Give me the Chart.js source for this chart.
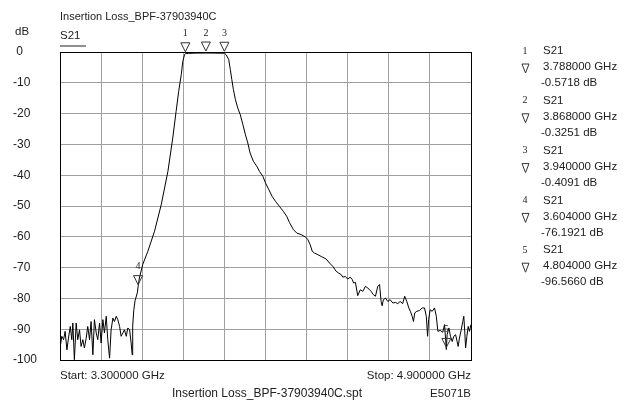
<!DOCTYPE html>
<html>
<head>
<meta charset="utf-8">
<script src="https://cdn.jsdelivr.net/npm/chart.js@4.4.0/dist/chart.umd.min.js"></script>
<style>
html, body { margin: 0; padding: 0; background: #fff; }
#wrap { position: relative; width: 639px; height: 402px; }
</style>
</head>
<body>
<div id="wrap"><canvas id="myChart"></canvas></div>
<script>
// trace (GHz / dB)
var freqGHz = [
    3.301,3.307,3.314,3.320,3.327,3.333,3.340,3.346,3.350,3.356,
    3.363,3.369,3.376,3.382,3.389,3.395,3.402,3.408,3.415,3.421,
    3.428,3.434,3.441,3.447,3.454,3.460,3.467,3.473,3.480,3.486,
    3.493,3.499,3.506,3.512,3.519,3.525,3.532,3.538,3.545,3.551,
    3.558,3.564,3.571,3.577,
    3.581,3.583,3.587,3.592,3.601,3.604,3.609,3.622,3.642,3.668,3.694,3.720,3.739,3.752,3.762,3.772,3.778,3.785,
    3.788,3.800,3.830,3.868,3.900,3.940,
    3.947,3.957,3.963,3.969,3.975,3.983,3.992,4.002,4.012,4.022,
    4.031,4.040,4.053,4.066,4.077,4.090,4.100,4.113,4.126,4.139,
    4.154,4.170,4.183,4.193,4.209,4.222,4.239,4.256,4.265,4.274,
    4.282,4.291,4.304,4.317,4.336,
    4.349,4.362,4.375,4.385,4.395,4.401,4.411,4.420,4.430,4.438,
    4.443,4.450,4.459,4.469,4.479,4.489,4.498,4.511,4.520,4.528,
    4.537,4.544,4.550,4.554,4.559,4.567,4.576,4.585,4.596,4.606,
    4.615,4.624,4.634,4.642,4.650,4.658,4.664,4.671,4.676,4.681,
    4.689,4.700,4.710,4.719,4.726,4.731,4.735,4.741,4.749,4.758,
    4.765,4.771,4.780,4.790,4.797,4.804,4.807,4.814,4.820,4.827,
    4.833,4.840,4.846,4.850,4.855,4.862,4.868,4.872,4.876,4.879,
    4.884,4.889,4.894,4.900
];
var s21dB = [
    -95.6,-92.3,-93.4,-90.7,-96.7,-92.9,-89.1,-93.4,-88.0,-99.9,
    -88.0,-93.4,-90.2,-95.6,-93.4,-96.1,-92.9,-89.1,-93.4,-87.5,
    -98.3,-86.9,-91.2,-93.4,-88.0,-94.5,-86.9,-91.2,-85.8,-93.4,
    -99.4,-90.2,-86.4,-87.5,-85.8,-86.9,-89.1,-92.3,-91.2,-90.2,
    -92.3,-89.6,-90.2,-94.5,
    -98.3,-89.0,-84.0,-80.8,-78.2,-76.2,-73.4,-69.0,-64.7,-58.2,-49.6,-38.8,-27.9,-19.3,-12.8,-7.4,-3.1,-0.8,
    -0.57,-0.45,-0.36,-0.33,-0.36,-0.41,
    -0.9,-2.5,-5.7,-9.0,-12.2,-15.5,-18.2,-20.4,-23.6,-26.9,
    -29.5,-32.8,-35.5,-37.1,-38.8,-40.4,-42.5,-44.7,-46.9,-48.5,
    -50.1,-51.8,-53.4,-55.3,-57.7,-58.8,-59.3,-60.1,-60.9,-62.6,
    -64.7,-65.3,-65.8,-66.4,-67.2,
    -68.5,-69.6,-71.2,-71.8,-72.3,-73.1,-72.9,-73.7,-73.1,-73.9,
    -75.0,-74.8,-79.1,-77.2,-77.7,-76.1,-76.6,-77.7,-78.8,-79.3,
    -76.1,-75.5,-81.0,-82.4,-80.4,-79.9,-81.0,-80.4,-81.5,-81.3,
    -81.7,-81.0,-81.7,-79.3,-81.0,-83.1,-84.2,-85.8,-87.5,-84.7,
    -84.2,-83.9,-83.1,-83.1,-85.8,-92.3,-86.9,-83.7,-84.2,-83.1,
    -85.8,-90.7,-90.4,-91.0,-88.5,-96.6,-91.8,-89.6,-92.3,-94.0,
    -92.3,-91.8,-94.0,-95.6,-92.9,-90.2,-87.5,-85.8,-91.2,-96.1,
    -92.3,-89.1,-90.7,-88.5
];

var markerNo = ["1", "2", "3", "4", "5"];
var markerFreq = [3.788, 3.868, 3.940, 3.604, 4.804];
var markerDb = [-0.5718, -0.3251, -0.4091, -76.1921, -96.5660];

var xGrid = [3.30, 3.46, 3.62, 3.78, 3.94, 4.10, 4.26, 4.42, 4.58, 4.74, 4.90];
var yTicks = [0, -10, -20, -30, -40, -50, -60, -70, -80, -90, -100];

var titleText = "Insertion Loss_BPF-37903940C";
var traceName = "S21";
var startText = "Start: 3.300000 GHz";
var stopText = "Stop: 4.900000 GHz";
var fileText = "Insertion Loss_BPF-37903940C.spt";
var modelText = "E5071B";

var points = [];
for (let i = 0; i < freqGHz.length; i++) {
    points.push({x: freqGHz[i], y: s21dB[i]});
}

const SANS = "'Liberation Sans', Arial, sans-serif";
const SERIF = "'Liberation Serif', 'Times New Roman', serif";

function drawTri(ctx, cx, apexY, w, h){
    ctx.beginPath();
    ctx.moveTo(cx - w/2, apexY - h);
    ctx.lineTo(cx + w/2, apexY - h);
    ctx.lineTo(cx, apexY);
    ctx.closePath();
    ctx.stroke();
}

const decorPlugin = {
    id: 'decor',
    afterDraw(chart){
        const ctx = chart.ctx;
        const area = chart.chartArea;
        const xs = chart.scales.x;
        const ys = chart.scales.y;
        ctx.save();

        // frame
        ctx.strokeStyle = '#000';
        ctx.lineWidth = 1;
        ctx.strokeRect(Math.round(area.left) + 0.5, Math.round(area.top) + 0.5,
            Math.round(area.right - area.left), Math.round(area.bottom - area.top));

        ctx.fillStyle = '#222';
        ctx.textBaseline = 'middle';
        ctx.textAlign = 'left';
        ctx.font = '11px ' + SANS;
        ctx.fillText(titleText, 60, 17);
        ctx.font = '11.5px ' + SANS;
        ctx.fillText('dB', 15, 32);
        ctx.fillText(traceName, 60, 36);
        ctx.fillRect(60, 45.5, 26, 1);

        ctx.fillText(startText, 60, 376);
        ctx.font = '12px ' + SANS;
        ctx.fillText(fileText, 172, 394);
        ctx.textAlign = 'right';
        ctx.font = '11.5px ' + SANS;
        ctx.fillText(stopText, 471, 376);
        ctx.fillText(modelText, 471, 394);

        // markers on the trace
        ctx.strokeStyle = '#333';
        for (let i = 0; i < markerFreq.length; i++) {
            const px = xs.getPixelForValue(markerFreq[i]);
            const py = ys.getPixelForValue(markerDb[i]);
            drawTri(ctx, px, py - 2, 9, 9);
            ctx.textAlign = 'center';
            ctx.font = '10px ' + SERIF;
            ctx.fillText(markerNo[i], px, py - 20);
        }

        // marker readout on the right
        for (let i = 0; i < markerFreq.length; i++) {
            const by = 51 + i * 49.8;
            ctx.textAlign = 'center';
            ctx.font = '10px ' + SERIF;
            ctx.fillText(markerNo[i], 525, by);
            drawTri(ctx, 525.5, by + 22, 7, 9);
            ctx.textAlign = 'left';
            ctx.font = '11.5px ' + SANS;
            ctx.fillText(traceName, 543, by);
            ctx.fillText(markerFreq[i].toFixed(6) + ' GHz', 543, by + 16);
            ctx.fillText(markerDb[i].toFixed(4) + ' dB', 541, by + 32);
        }
        ctx.restore();
    }
};

new Chart("myChart", {
    type: "line",
    data: {
        datasets: [{
            label: traceName,
            data: points,
            borderColor: "#000",
            borderWidth: 1,
            pointRadius: 0,
            fill: false,
            tension: 0
        }]
    },
    options: {
        responsive: true,
        maintainAspectRatio: false,
        animation: false,
        layout: { padding: { left: 13, top: 52, right: 168, bottom: 42 } },
        plugins: { legend: { display: false }, tooltip: { enabled: false } },
        scales: {
            x: {
                type: 'linear',
                min: 3.3,
                max: 4.9,
                afterBuildTicks: (s) => { s.ticks = xGrid.map(v => ({value: v})); },
                afterFit: (s) => { s.height = 0; },
                ticks: { display: false },
                grid: { color: '#a0a0a0', drawTicks: false },
                border: { display: false }
            },
            y: {
                min: -100,
                max: 0,
                afterBuildTicks: (s) => { s.ticks = yTicks.map(v => ({value: v})); },
                afterFit: (s) => { s.width = 47; },
                ticks: {
                    crossAlign: 'far',
                    padding: 0,
                    color: '#222',
                    font: { family: SANS, size: 12 },
                    callback: (v) => v === 0 ? ' 0' : String(v)
                },
                grid: { color: '#a0a0a0', drawTicks: false },
                border: { display: false }
            }
        }
    },
    plugins: [decorPlugin]
});
</script>
</body>
</html>
